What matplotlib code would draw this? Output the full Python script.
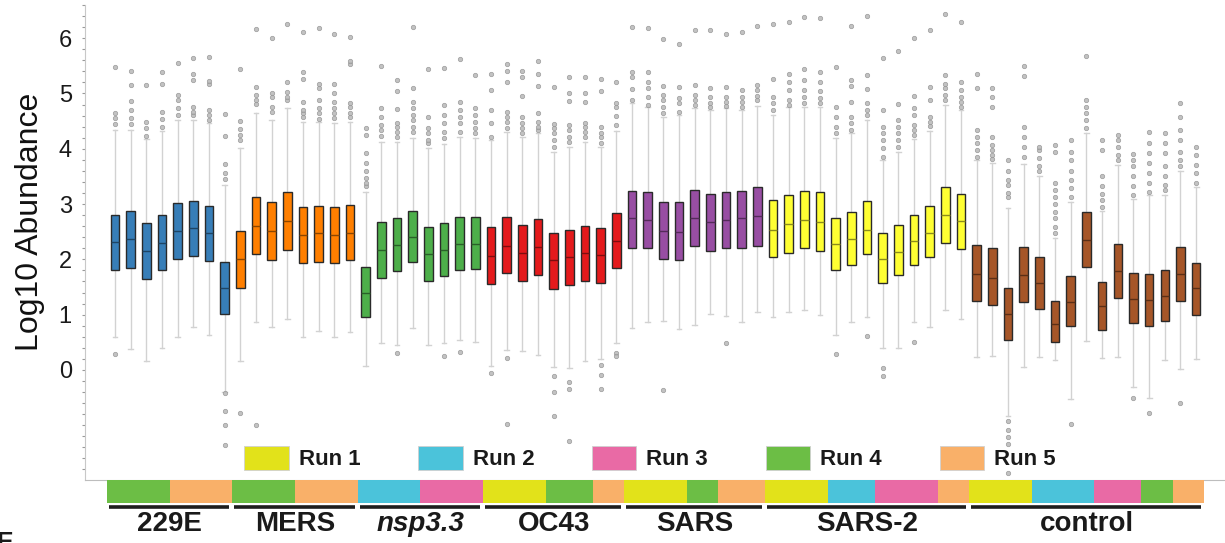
import numpy as np
import matplotlib.pyplot as plt
import matplotlib.colors as mcolors
from matplotlib.patches import Patch

plt.rcParams["font.family"] = ["Liberation Sans", "DejaVu Sans"]

# Groups (one colour per sample group) and how many boxes each has
GROUPS = ["229E", "MERS", "nsp3.3", "OC43", "SARS", "SARS-2", "control"]
GROUP_SIZES = [8, 8, 8, 9, 9, 13, 15]
GROUP_COLORS = ["#377eb8", "#ff7f00", "#4daf4a", "#e41a1c", "#984ea3", "#ffff33", "#a65628"]

# MS runs (colour strip under the axis)
RUN_LABELS = ["Run 1", "Run 2", "Run 3", "Run 4", "Run 5"]
RUN_COLORS = ["#e2e21a", "#4bc3da", "#e96aa5", "#6cbe45", "#f9b069"]
RUNS = [4, 4, 4, 4, 5, 5, 5, 5,
        4, 4, 4, 4, 5, 5, 5, 5,
        2, 2, 2, 2, 3, 3, 3, 3,
        1, 1, 1, 1, 4, 4, 4, 5, 5,
        1, 1, 1, 1, 4, 4, 5, 5, 5,
        1, 1, 1, 1, 2, 2, 2, 3, 3, 3, 3, 5, 5,
        1, 1, 1, 1, 2, 2, 2, 2, 3, 3, 3, 4, 4, 5, 5]

# box statistics (log10 abundance)
Q1 = [1.81, 1.85, 1.65, 1.80, 2.01, 2.06, 1.97, 1.01,
      1.49, 2.09, 1.99, 2.17, 1.93, 1.96, 1.93, 1.98,
      0.95, 1.66, 1.79, 1.96, 1.61, 1.70, 1.81, 1.83,
      1.56, 1.75, 1.61, 1.72, 1.47, 1.53, 1.60, 1.58, 1.84,
      2.21, 2.20, 2.01, 1.99, 2.24, 2.16, 2.21, 2.21, 2.25,
      2.04, 2.12, 2.21, 2.16, 1.80, 1.90, 2.10, 1.57, 1.72, 1.89, 2.04, 2.29, 2.18,
      1.24, 1.18, 0.54, 1.22, 1.11, 0.51, 0.79, 1.86, 0.72, 1.31, 0.85, 0.79, 0.89, 1.25, 1.00]
MED = [2.31, 2.36, 2.16, 2.30, 2.51, 2.56, 2.47, 1.48,
       2.00, 2.61, 2.51, 2.69, 2.44, 2.47, 2.44, 2.48,
       1.40, 2.17, 2.26, 2.40, 2.09, 2.17, 2.27, 2.28,
       2.06, 2.24, 2.11, 2.22, 1.98, 2.05, 2.11, 2.07, 2.34,
       2.74, 2.71, 2.52, 2.50, 2.75, 2.68, 2.72, 2.74, 2.78,
       2.54, 2.64, 2.71, 2.67, 2.28, 2.36, 2.54, 2.00, 2.13, 2.33, 2.48, 2.80, 2.69,
       1.73, 1.67, 1.02, 1.72, 1.57, 0.83, 1.22, 2.35, 1.15, 1.79, 1.28, 1.27, 1.34, 1.73, 1.48]
Q3 = [2.81, 2.87, 2.66, 2.81, 3.02, 3.05, 2.96, 1.95,
      2.51, 3.13, 3.03, 3.21, 2.95, 2.97, 2.94, 2.98,
      1.87, 2.67, 2.74, 2.88, 2.58, 2.66, 2.77, 2.77,
      2.59, 2.77, 2.63, 2.73, 2.47, 2.54, 2.61, 2.56, 2.84,
      3.24, 3.22, 3.04, 3.03, 3.25, 3.19, 3.22, 3.24, 3.30,
      3.07, 3.16, 3.24, 3.21, 2.75, 2.85, 3.05, 2.47, 2.62, 2.81, 2.97, 3.30, 3.19,
      2.26, 2.20, 1.49, 2.23, 2.05, 1.25, 1.70, 2.85, 1.59, 2.27, 1.76, 1.74, 1.80, 2.23, 1.93]
WHIS_LO = [0.59, 0.38, 0.16, 0.40, 0.59, 0.77, 0.63, -0.39,
           0.17, 0.86, 0.77, 0.92, 0.59, 0.71, 0.59, 0.68,
           0.08, 0.49, 0.46, 0.75, 0.46, 0.48, 0.55, 0.51,
           0.08, 0.36, 0.35, 0.27, 0.06, 0.04, 0.16, 0.19, 0.48,
           0.75, 0.86, 0.89, 0.74, 0.81, 1.01, 0.98, 0.86, 1.04,
           0.95, 1.04, 1.08, 0.99, 0.63, 0.87, 0.95, 0.40, 0.39, 0.87, 0.77, 1.08, 0.93,
           0.24, 0.25, -0.84, 0.06, 0.24, 0.18, -0.52, 0.52, 0.21, 0.24, -0.30, -0.50, 0.18, 0.01, 0.20]
WHIS_HI = [4.34, 4.34, 4.17, 4.32, 4.52, 4.52, 4.46, 3.35,
           4.02, 4.64, 4.52, 4.73, 4.49, 4.49, 4.46, 4.49,
           3.22, 4.13, 4.13, 4.19, 4.01, 4.09, 4.22, 4.19,
           4.16, 4.31, 4.21, 4.28, 3.95, 4.04, 4.13, 4.04, 4.33,
           4.82, 4.76, 4.58, 4.61, 4.73, 4.70, 4.73, 4.70, 4.77,
           4.61, 4.75, 4.76, 4.75, 4.19, 4.28, 4.52, 3.79, 3.95, 4.17, 4.32, 4.80, 4.70,
           3.80, 3.74, 2.92, 3.72, 3.50, 2.38, 3.04, 4.28, 2.88, 3.71, 3.09, 3.16, 3.16, 3.59, 3.30]
FLIERS = [
    [4.45, 4.55, 4.64, 5.47, 0.28],
    [4.45, 4.56, 4.70, 4.87, 5.15, 5.41],
    [4.24, 4.38, 4.48, 5.15],
    [4.40, 4.54, 4.67, 5.18, 5.38],
    [4.61, 4.73, 4.88, 4.97, 5.56],
    [4.61, 4.67, 4.76, 5.24, 5.36, 5.65],
    [4.52, 4.61, 4.70, 5.18, 5.23, 5.66],
    [3.45, 3.57, 3.73, 4.23, 4.62, -0.42, -0.74, -1.00, -1.36],
    [4.16, 4.25, 4.35, 4.51, 5.44, -0.78],
    [4.81, 4.88, 4.97, 5.11, 6.17, -0.99],
    [4.67, 4.75, 4.93, 5.00, 6.01],
    [4.88, 4.94, 5.03, 5.20, 6.25],
    [4.58, 4.64, 4.70, 4.84, 5.27, 5.39, 6.12],
    [4.54, 4.64, 4.73, 4.88, 5.09, 5.18, 6.19],
    [4.55, 4.64, 4.73, 4.85, 5.00, 5.17, 6.08],
    [4.58, 4.64, 4.75, 4.82, 5.53, 5.58, 6.02],
    [3.32, 3.39, 3.47, 3.59, 3.75, 3.93, 4.25, 4.37],
    [4.23, 4.34, 4.43, 4.58, 4.73, 5.49],
    [4.22, 4.31, 4.40, 4.46, 4.72, 5.05, 5.24, 0.30],
    [4.31, 4.40, 4.52, 4.61, 4.73, 4.85, 5.10, 6.20],
    [4.10, 4.16, 4.28, 4.37, 4.58, 5.44],
    [4.19, 4.31, 4.46, 4.61, 4.79, 5.46, 0.26],
    [4.31, 4.46, 4.58, 4.70, 4.84, 5.62, 0.33],
    [4.28, 4.37, 4.49, 4.61, 4.73, 5.33],
    [4.22, 4.47, 4.71, 5.06, 5.35, -0.06],
    [4.37, 4.49, 4.58, 4.67, 5.20, 5.41, 5.53, 0.21, -0.98],
    [4.28, 4.37, 4.46, 4.58, 4.95, 5.29, 5.40],
    [4.34, 4.40, 4.49, 4.64, 5.14, 5.35, 5.59],
    [4.04, 4.16, 4.28, 4.37, 4.45, 5.11, -0.11, -0.40, -0.83],
    [4.13, 4.22, 4.34, 4.43, 4.87, 5.01, 5.29, -0.22, -0.35, -1.28],
    [4.22, 4.31, 4.40, 4.46, 4.85, 5.01, 5.29],
    [4.10, 4.22, 4.28, 4.40, 5.04, 5.26, 0.09, -0.10, -0.34],
    [4.43, 4.59, 4.75, 4.83, 5.20, 0.30, 0.25],
    [4.88, 5.08, 5.30, 5.39, 6.20],
    [4.80, 4.94, 5.09, 5.20, 5.38, 6.18],
    [4.64, 4.76, 4.88, 4.97, 5.14, 5.99, -0.36],
    [4.67, 4.82, 4.92, 5.11, 5.89],
    [4.79, 4.88, 4.97, 5.15, 6.15],
    [4.76, 4.82, 4.94, 5.09, 6.14],
    [4.77, 4.85, 4.94, 5.11, 6.08, 0.48],
    [4.76, 4.85, 4.94, 5.06, 6.12],
    [4.88, 4.95, 5.06, 5.15, 6.22],
    [4.70, 4.82, 4.93, 5.27, 6.26],
    [4.79, 4.88, 5.06, 5.21, 5.35, 6.30],
    [4.82, 4.94, 5.06, 5.24, 5.44, 6.38],
    [4.82, 4.91, 5.05, 5.21, 5.39, 6.37],
    [4.28, 4.40, 4.58, 4.76, 5.47, 0.29],
    [4.34, 4.46, 4.58, 4.85, 5.14, 5.24, 6.22],
    [4.61, 4.70, 4.82, 5.08, 5.33, 6.40, 0.61],
    [3.86, 4.01, 4.16, 4.28, 4.40, 4.70, 5.64, 0.04, -0.11],
    [4.04, 4.16, 4.28, 4.40, 4.52, 4.81, 5.76],
    [4.25, 4.34, 4.43, 4.61, 4.73, 4.96, 6.01, 0.50],
    [4.41, 4.49, 4.58, 4.88, 5.12, 6.15],
    [4.88, 4.97, 5.09, 5.18, 5.33, 6.43],
    [4.76, 4.85, 4.94, 5.06, 5.20, 6.29],
    [3.86, 3.98, 4.10, 4.22, 4.34, 5.09, 5.35],
    [3.81, 3.89, 3.98, 4.07, 4.22, 4.75, 4.94, 5.09],
    [3.13, 3.20, 3.35, 3.44, 3.59, 3.79, -0.93, -1.08, -1.21, -1.33, -1.86],
    [3.86, 4.04, 4.22, 4.40, 5.32, 5.49],
    [3.59, 3.68, 3.83, 3.98, 4.04],
    [2.47, 2.59, 2.74, 2.86, 3.01, 3.13, 3.25, 3.38, 3.95, 4.06],
    [3.13, 3.29, 3.44, 3.59, 3.80, 3.95, 4.16, -0.98],
    [4.37, 4.52, 4.64, 4.76, 4.89, 5.68],
    [2.95, 3.07, 3.19, 3.32, 3.50, 3.98, 4.16],
    [3.80, 3.89, 4.04, 4.16, 4.25],
    [3.16, 3.32, 3.50, 3.68, 3.80, 3.91, -0.51],
    [3.22, 3.38, 3.56, 3.74, 3.92, 4.10, 4.30, -0.78],
    [3.25, 3.35, 3.50, 3.68, 3.92, 4.10, 4.28],
    [3.68, 3.80, 3.95, 4.16, 4.34, 4.58, 4.82, -0.60],
    [3.39, 3.56, 3.71, 3.89, 4.04],
]

W, H = 1225, 543
fig = plt.figure(figsize=(W / 100, H / 100), dpi=100)

L = 85 / W
ax = fig.add_axes([L, 1 - 480 / H, 1 - L, 475 / H])
ax_strip = fig.add_axes([L, 1 - 503 / H, 1 - L, 23 / H], sharex=ax)
ax_lab = fig.add_axes([L, 0, 1 - L, 40 / H], sharex=ax)

n = len(MED)
positions = np.arange(n)
stats = [dict(q1=Q1[i], med=MED[i], q3=Q3[i], whislo=WHIS_LO[i],
              whishi=WHIS_HI[i], fliers=FLIERS[i]) for i in range(n)]

bp = ax.bxp(
    stats,
    positions=positions,
    widths=0.55,
    capwidths=0.3,
    patch_artist=True,
    boxprops=dict(edgecolor="#2a2a2a", linewidth=1.0, zorder=3),
    whiskerprops=dict(color="#d2d2d2", linewidth=1.0, zorder=1),
    capprops=dict(color="#d2d2d2", linewidth=1.0, zorder=1),
    medianprops=dict(linewidth=1.0, zorder=4),
    flierprops=dict(marker="o", markersize=3.2, markerfacecolor="#b8b8b8",
                    markeredgecolor="#909090", markeredgewidth=0.5, alpha=0.85),
)

box_colors = []
for c, k in zip(GROUP_COLORS, GROUP_SIZES):
    box_colors += [c] * k
for patch, med_line, c in zip(bp["boxes"], bp["medians"], box_colors):
    patch.set_facecolor(c)
    dark = np.array(mcolors.to_rgb(c)) * 0.55
    med_line.set_color(dark)

ax.set_xlim(-1.91, 70.84)
ax.set_ylim(-1.99, 6.6)
ax.set_yticks(range(7))
ax.set_yticks(np.arange(-1.8, 6.61, 0.2), minor=True)
ax.tick_params(axis="y", which="both", direction="out", length=2.5, width=0.8,
               color="#9a9a9a", labelsize=17, pad=7, labelcolor="#1a1a1a")
ax.tick_params(axis="x", bottom=False, labelbottom=False)
for s in ["top", "right"]:
    ax.spines[s].set_visible(False)
ax.spines["left"].set_color("#c8c8c8")
ax.spines["bottom"].set_color("#bdbdbd")
ax.patch.set_alpha(0)

fig.text(30 / W, 1 - 222 / H, "Log10 Abundance", rotation=90,
         ha="center", va="center", fontsize=23, color="#111111")

# run strip
ax_strip.bar(positions, 1, width=1.0, bottom=0,
             color=[RUN_COLORS[r - 1] for r in RUNS], linewidth=0)
ax_strip.set_ylim(0, 1)
ax_strip.axis("off")

# group underlines and names
ax_lab.set_ylim(0, 1)
ax_lab.axis("off")
start = 0
for g, k in zip(GROUPS, GROUP_SIZES):
    end = start + k - 1
    ax_lab.plot([start - 0.38, end + 0.3], [0.9, 0.9], color="#1e1e1e",
                linewidth=2.6, solid_capstyle="butt")
    style = "italic" if g == "nsp3.3" else "normal"
    ax_lab.text((start + end) / 2, 0.47, g, ha="center", va="center",
                fontsize=20, fontweight="bold", fontstyle=style, color="#1a1a1a")
    start = end + 1

handles = [Patch(facecolor=c, edgecolor="#d0d0d0", linewidth=0.6, label=l)
           for c, l in zip(RUN_COLORS, RUN_LABELS)]
fig.legend(handles=handles, loc="center", bbox_to_anchor=(650 / W, 1 - 458 / H),
           ncol=5, frameon=False, prop=dict(weight="bold", size=16),
           handlelength=2.0, handleheight=1.26, handletextpad=0.45,
           columnspacing=2.6, labelcolor="#1a1a1a")

# cropped panel letter at the lower-left corner, as in the source figure
fig.text(-0.003, 1 - 531 / H, "E", ha="left", va="top", fontsize=18,
         fontweight="bold", color="#1a1a1a")

fig.savefig("out.png", dpi=100)
